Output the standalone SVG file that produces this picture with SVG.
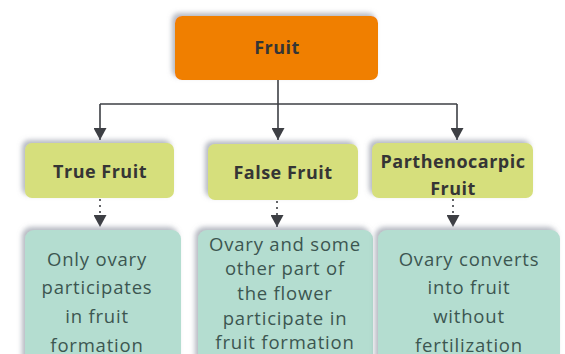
<svg xmlns="http://www.w3.org/2000/svg" width="565" height="354" viewBox="0 0 565 354">
<defs>
<filter id="sh" x="-20%" y="-30%" width="140%" height="160%">
<feDropShadow dx="-3" dy="-3" stdDeviation="2.5" flood-color="#7a7f90" flood-opacity="0.55"/>
</filter>
<marker id="ah" markerWidth="13" markerHeight="13" refX="12" refY="6.5" orient="auto" markerUnits="userSpaceOnUse" viewBox="0 0 13 13">
<path d="M0,0 L12,6.5 L0,13 Z" fill="#3d3f44"/>
</marker>
</defs>
<style>
.conn{stroke:#3d3f44;stroke-width:1.6;fill:none}
.dot{stroke:#3d3f44;stroke-width:1.6;fill:none;stroke-dasharray:2 4}
.head{font-family:"Open Sans","Liberation Sans",sans-serif;font-weight:bold;font-size:18px;letter-spacing:0.5px;fill:#353535;text-anchor:middle}
.body{font-family:"Open Sans","Liberation Sans",sans-serif;font-size:18.5px;letter-spacing:0.8px;fill:#3c5650;text-anchor:middle}
.y{fill:#d6df7c}
.t{fill:#b4ddd0}
</style>
<rect width="565" height="354" fill="#ffffff"/>
<g id="connectors">
<path class="conn" d="M278,80 V104"/>
<path class="conn" d="M100,104 H457"/>
<path class="conn" d="M100,104 V140" marker-end="url(#ah)"/>
<path class="conn" d="M278,104 V140" marker-end="url(#ah)"/>
<path class="conn" d="M457,104 V140" marker-end="url(#ah)"/>
<path class="dot" d="M100,199 V227" marker-end="url(#ah)"/>
<path class="dot" d="M277,201 V227" marker-end="url(#ah)"/>
<path class="dot" d="M453,199 V227" marker-end="url(#ah)"/>
</g>
<g id="fruit">
<rect x="175" y="16" width="203" height="64" rx="7" fill="#f07f00" filter="url(#sh)"/>
<text class="head" x="277" y="54">Fruit</text>
</g>
<g id="true-fruit">
<rect class="y" x="25" y="143" width="149" height="55" rx="7" filter="url(#sh)"/>
<text class="head" x="100" y="178">True Fruit</text>
</g>
<g id="false-fruit">
<rect class="y" x="208" y="144" width="150" height="56" rx="7" filter="url(#sh)"/>
<text class="head" x="283" y="179">False Fruit</text>
</g>
<g id="parthenocarpic-fruit">
<rect class="y" x="372" y="143" width="161" height="55" rx="7" filter="url(#sh)"/>
<text class="head" x="453" y="168">Parthenocarpic</text>
<text class="head" x="453" y="195">Fruit</text>
</g>
<g id="only-ovary">
<rect class="t" x="25" y="230" width="156" height="140" rx="9" filter="url(#sh)"/>
<text class="body" x="97" y="266">Only ovary</text>
<text class="body" x="97" y="294">participates</text>
<text class="body" x="97" y="323">in fruit</text>
<text class="body" x="97" y="352">formation</text>
</g>
<g id="ovary-and-other">
<rect class="t" x="198" y="230" width="175" height="140" rx="9" filter="url(#sh)"/>
<text class="body" x="285" y="251">Ovary and some</text>
<text class="body" x="285" y="275">other part of</text>
<text class="body" x="285" y="300">the flower</text>
<text class="body" x="285" y="325">participate in</text>
<text class="body" x="285" y="349">fruit formation</text>
</g>
<g id="ovary-converts">
<rect class="t" x="378" y="230" width="182" height="140" rx="9" filter="url(#sh)"/>
<text class="body" x="469" y="266">Ovary converts</text>
<text class="body" x="469" y="294">into fruit</text>
<text class="body" x="469" y="323">without</text>
<text class="body" x="469" y="352">fertilization</text>
</g>
</svg>
